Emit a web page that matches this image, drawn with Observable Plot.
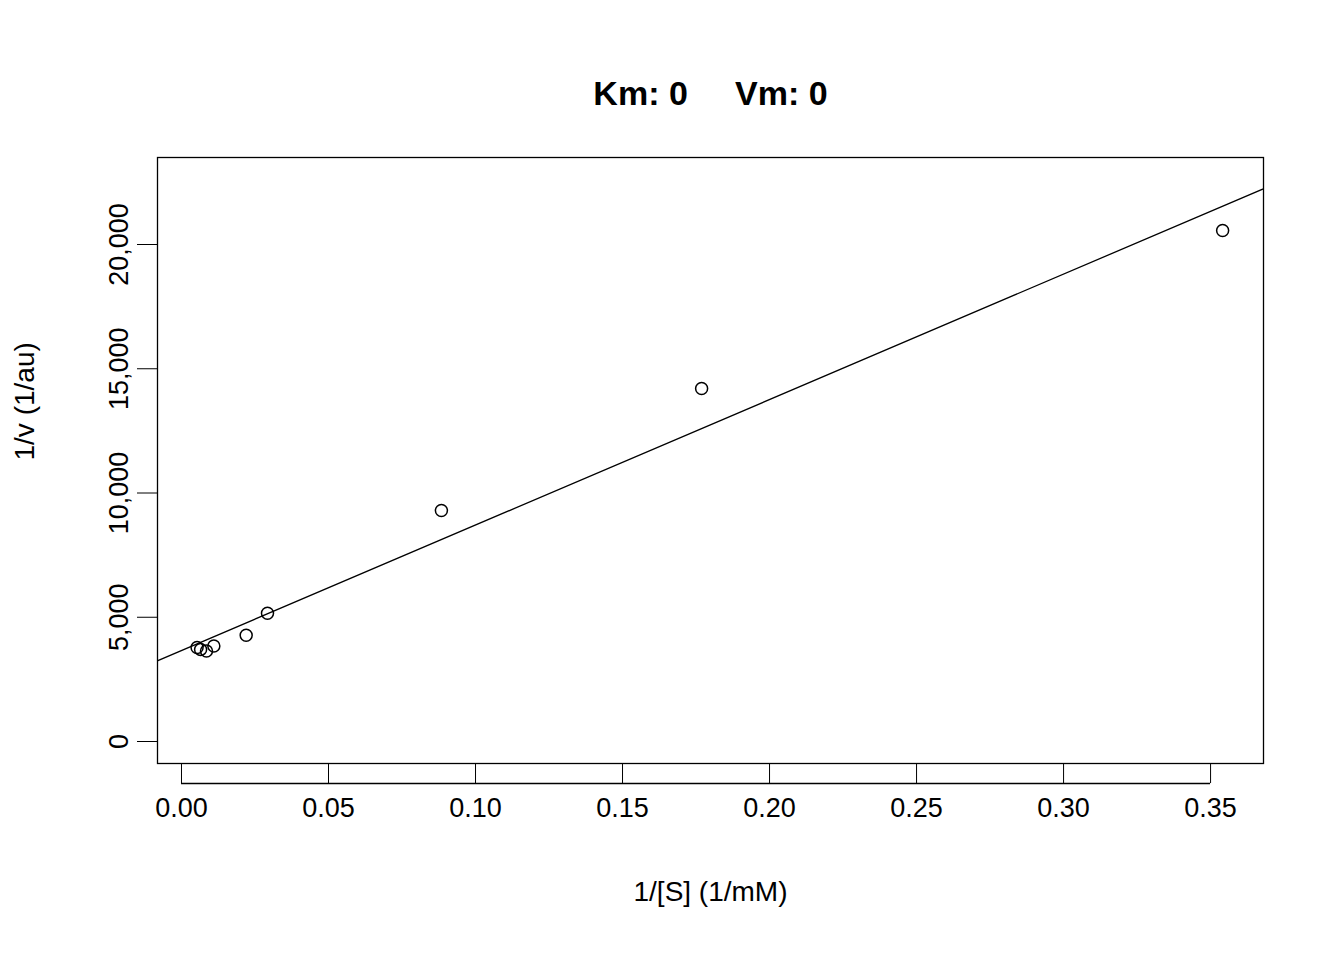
<!DOCTYPE html>
<html><head>
<script src="https://cdn.jsdelivr.net/npm/d3@7"></script>
<script src="https://cdn.jsdelivr.net/npm/@observablehq/plot@0.6"></script>
<style>body{margin:0;background:#fff}</style>
</head><body><div id="chart"></div>
<script>
const invS = [0.3541, 0.1769, 0.0884, 0.02925, 0.0220, 0.0110, 0.0085, 0.0065, 0.0053]
const invV = [20563, 14205, 9296, 5160, 4276, 3843, 3642, 3706, 3783]
const xTicks = [0, 0.05, 0.10, 0.15, 0.20, 0.25, 0.30, 0.35]
const yTicks = [0, 5000, 10000, 15000, 20000]
const intercept = 3662, slope = 50490

const pts = invS.map((x, i) => ({x, y: invV[i]}))
const fit = [-0.01, 0.37].map(x => ({x, y: intercept + slope * x}))

const chart = Plot.plot({
  width: 1344, height: 960,
  marginLeft: 157, marginRight: 81, marginTop: 157, marginBottom: 197,
  style: {fontFamily: "Liberation Sans, Arial, sans-serif", fontSize: "27px", color: "#000"},
  x: {domain: [-0.00816, 0.368], ticks: xTicks, tickFormat: d3.format(".2f")},
  y: {domain: [-885, 23501], ticks: yTicks, tickFormat: d => String(d)},
  marks: [
    Plot.frame({stroke: "#000", strokeWidth: 1.3}),
    Plot.axisX({ticks: xTicks, tickSize: 20, tickPadding: 14, tickFormat: d3.format(".2f"), label: null, fontSize: 27}),
    Plot.axisY({ticks: yTicks, tickSize: 20, tickPadding: 10, tickRotate: -90, label: null, fontSize: 27}),
    Plot.ruleY([0], {x1: 0, x2: 0.35, y: -885, dy: 20, strokeWidth: 1.3, clip: false}),
    Plot.line(fit, {x: "x", y: "y", stroke: "#000", strokeWidth: 1.3, clip: true}),
    Plot.dot(pts, {x: "x", y: "y", r: 6, stroke: "#000", strokeWidth: 1.5, fill: "none"}),
    Plot.text(["1/[S] (1/mM)"], {frameAnchor: "bottom", dy: 137, fontSize: 28}),
    Plot.text(["1/v (1/au)"], {frameAnchor: "left", dx: -132, rotate: -90, fontSize: 28}),
    Plot.text(["Km: 0     Vm: 0"], {frameAnchor: "top", dy: -77, fontSize: 34, fontWeight: "bold"})
  ]
})
document.getElementById("chart").append(chart)
</script></body></html>
